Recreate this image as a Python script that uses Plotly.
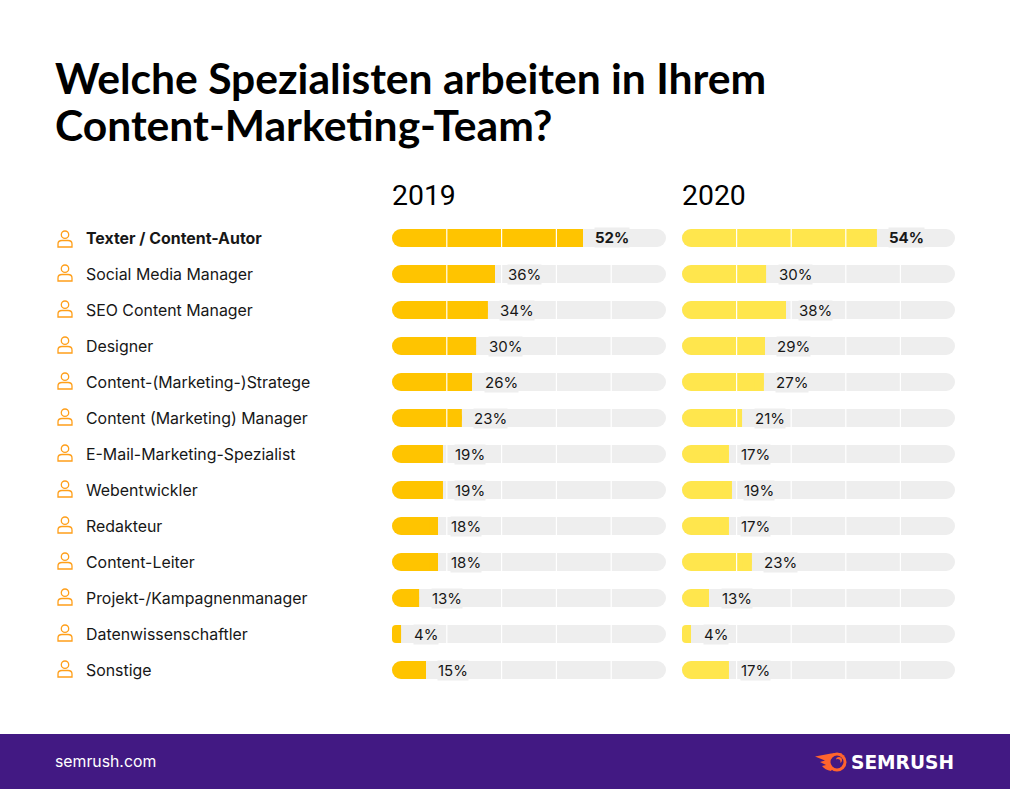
import plotly.graph_objects as go

W, H = 1010, 789

categories = ["Texter / Content-Autor", "Social Media Manager", "SEO Content Manager", "Designer",
              "Content-(Marketing-)Stratege", "Content (Marketing) Manager", "E-Mail-Marketing-Spezialist",
              "Webentwickler", "Redakteur", "Content-Leiter", "Projekt-/Kampagnenmanager",
              "Datenwissenschaftler", "Sonstige"]
labels_2019 = [52, 36, 34, 30, 26, 23, 19, 19, 18, 18, 13, 4, 15]
labels_2020 = [54, 30, 38, 29, 27, 21, 17, 19, 17, 23, 13, 4, 17]
# drawn bar length as share of the track (the picture's bars are not proportional to their labels)
bars_2019 = [69.7, 37.6, 35.0, 30.7, 29.2, 25.5, 18.6, 18.6, 16.8, 16.8, 9.9, 3.3, 12.4]
bars_2020 = [71.4, 30.8, 38.1, 30.4, 30.0, 22.0, 17.2, 18.3, 17.2, 25.6, 9.9, 3.3, 17.2]
track = [100] * len(categories)
ticks = [20, 40, 60, 80]

YEARS = [("2019", "x", bars_2019, labels_2019, "#ffc400", 392, 666),
         ("2020", "x2", bars_2020, labels_2020, "#ffe64d", 682, 955)]
INK = "#171717"
R = 9
NOLINE = dict(width=0)

px = lambda v: v / W
py = lambda v: 1 - v / H

fig = go.Figure()
annotations = []
shapes = []
zeros = [0] * len(categories)

for year, xa, bars, labels, color, x0, x1 in YEARS:
    rpct = R / (x1 - x0) * 100
    # a bar with an explicit base is rounded at both ends; a square cap then flattens the right end of the fill
    fig.add_trace(go.Bar(y=categories, base=zeros, x=track, xaxis=xa, yaxis="y", orientation="h",
                         marker=dict(color="#eeeeee", cornerradius=R, line=NOLINE), hoverinfo="skip", showlegend=False))
    fig.add_trace(go.Bar(y=categories, base=zeros, x=bars, xaxis=xa, yaxis="y", orientation="h", name=year,
                         marker=dict(color=color, cornerradius=R, line=NOLINE), showlegend=False))
    caps = [min(rpct, b / 2) for b in bars]
    fig.add_trace(go.Bar(y=categories, base=[b - c for b, c in zip(bars, caps)], x=caps, xaxis=xa, yaxis="y",
                         orientation="h", marker=dict(color=color, line=NOLINE), hoverinfo="skip", showlegend=False))
    for t in ticks:
        shapes.append(dict(type="line", xref=xa, yref="paper", x0=t, x1=t, y0=py(688), y1=py(220),
                           line=dict(color="white", width=1.2), layer="above"))
    annotations.append(dict(text=year, xref="paper", yref="paper", x=px(x0 - 2), y=py(195), xanchor="left",
                            yanchor="middle", showarrow=False, font=dict(family="Roboto", size=28.4, color="#000")))
    for i, (c, b, l) in enumerate(zip(categories, bars, labels)):
        txt = f"{l}%"
        if i == 0:
            txt = f"<b>{txt}</b>"
        annotations.append(dict(text=txt, xref=xa, yref="y", x=b, y=c, xanchor="left", yanchor="middle",
                                xshift=11.5, showarrow=False, bgcolor="#eeeeee", borderpad=0,
                                font=dict(family="Inter", size=15, color=INK)))

for i, c in enumerate(categories):
    annotations.append(dict(text=f"<b>{c}</b>" if i == 0 else c, xref="paper", yref="y", x=px(84), y=c,
                            xanchor="left", yanchor="middle", showarrow=False, yshift=-1 if i == 0 else 0,
                            font=dict(family="Inter", size=15.9, color=INK)))
    d = -2 if i == 0 else 0
    icon = dict(xref="paper", yref="y", xsizemode="pixel", ysizemode="pixel", xanchor=px(65), yanchor=c,
                line=dict(color="#ff9f1a", width=1.3), fillcolor="rgba(0,0,0,0)")
    shapes.append(dict(type="circle", x0=-3.7, x1=3.7, y0=1.6 + d, y1=9 + d, **icon))
    shapes.append(dict(type="path",
                       path=f"M-7,{-7+d} L-7,{-4+d} Q-7,{-0.5+d} -3,{-0.5+d} L3,{-0.5+d} Q7,{-0.5+d} 7,{-4+d} L7,{-7+d} Z",
                       **icon))

# title
for line, yc in (("Welche Spezialisten arbeiten in Ihrem", 77), ("Content-Marketing-Team?", 125)):
    annotations.append(dict(text=f"<b>{line}</b>", xref="paper", yref="paper", x=px(53), y=py(yc),
                            xanchor="left", yanchor="middle", showarrow=False,
                            font=dict(family="Lato", size=42.6, color="#000")))

# footer
shapes.append(dict(type="rect", xref="paper", yref="paper", x0=0, x1=1, y0=0, y1=py(734),
                   fillcolor="#421983", line_width=0, layer="below"))
annotations.append(dict(text="semrush.com", xref="paper", yref="paper", x=px(53), y=py(761), xanchor="left",
                        yanchor="middle", showarrow=False, font=dict(family="Inter", size=15.8, color="white")))
annotations.append(dict(text="<b>SEMRUSH</b>", xref="paper", yref="paper", x=px(849), y=py(762), xanchor="left",
                        yanchor="middle", showarrow=False, font=dict(family="DejaVu Sans", size=18.6, color="white")))
# logo: flame, ring, highlight
anchor = dict(xref="paper", yref="paper", xsizemode="pixel", ysizemode="pixel", xanchor=px(837), yanchor=py(762))
shapes.append(dict(type="path", fillcolor="#ff642d", line_width=0, **anchor,
                   path="M-22,5.5 L-6,8.5 Q0,9.7 5,8.5 L0,0 L-6,-9 Q-12,-8 -15,-4 L-11,-3 L-17,0 L-12,1.5 Z"))
shapes.append(dict(type="circle", fillcolor="#ff642d", line_width=0, x0=-9.5, x1=9.5, y0=-9.5, y1=9.5, **anchor))
shapes.append(dict(type="circle", fillcolor="#421983", line_width=0, x0=-6.5, x1=6.5, y0=-6.5, y1=6.5, **anchor))
shapes.append(dict(type="circle", fillcolor="#ff642d", line_width=0, x0=-1, x1=5, y0=-1, y1=5, **anchor))
shapes.append(dict(type="circle", fillcolor="#421983", line_width=0, x0=-2, x1=3.4, y0=-2.4, y1=3, **anchor))

hidden = dict(visible=False, fixedrange=True)
fig.update_layout(
    width=W, height=H, margin=dict(l=0, r=0, t=0, b=0), paper_bgcolor="white", plot_bgcolor="rgba(0,0,0,0)",
    barmode="overlay", bargap=0.5, showlegend=False,
    xaxis=dict(domain=[px(392), px(666)], range=[0, 100], **hidden),
    xaxis2=dict(domain=[px(682), px(955)], range=[0, 100], anchor="y", **hidden),
    yaxis=dict(domain=[py(688), py(220)], type="category", categoryorder="array", categoryarray=categories,
               autorange="reversed", **hidden),
    shapes=shapes, annotations=annotations,
)
fig.write_html("out.html", config={"displayModeBar": False},
               post_script="document.body.style.margin='0';"
                           "var s=document.createElement('style');"
                           "s.textContent='text{font-variant-ligatures:none}';document.head.appendChild(s);")
